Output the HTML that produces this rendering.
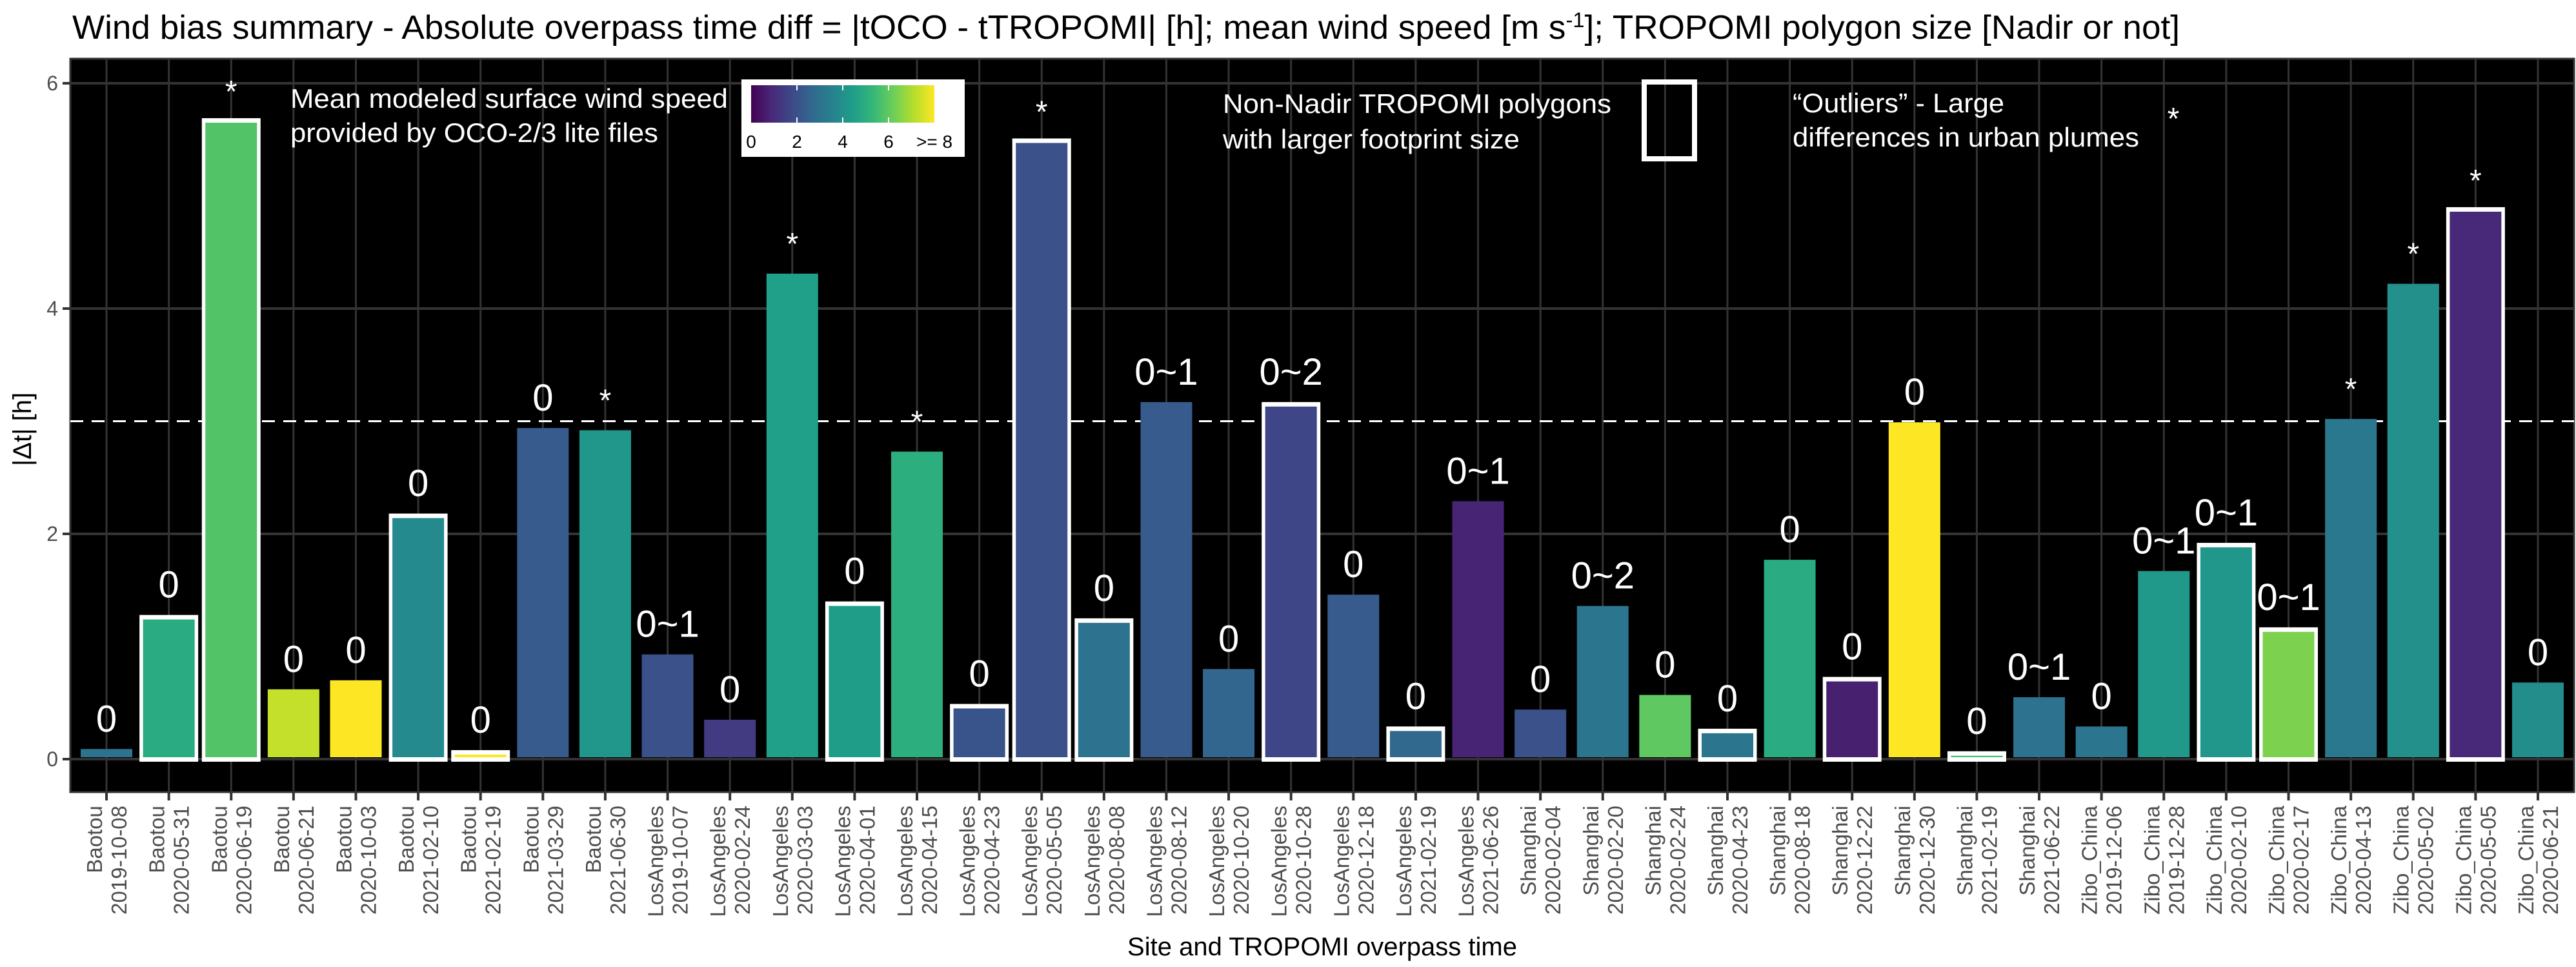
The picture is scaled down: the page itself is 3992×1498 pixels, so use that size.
<!DOCTYPE html>
<html><head><meta charset="utf-8"><style>
html,body{margin:0;padding:0;background:#fff;}
svg{display:block;font-family:"Liberation Sans",Arial,sans-serif;}
</style></head><body>
<svg id="chart" width="3992" height="1498" viewBox="0 0 3992 1498" xmlns="http://www.w3.org/2000/svg">
<defs>
<linearGradient id="viridis" x1="0" x2="1" y1="0" y2="0">
<stop offset="0" stop-color="#440154"/><stop offset="0.111" stop-color="#482878"/><stop offset="0.222" stop-color="#3e4989"/><stop offset="0.333" stop-color="#31688e"/><stop offset="0.444" stop-color="#26828e"/><stop offset="0.556" stop-color="#1f9e89"/><stop offset="0.667" stop-color="#35b779"/><stop offset="0.778" stop-color="#6ece58"/><stop offset="0.889" stop-color="#b5de2b"/><stop offset="1" stop-color="#fde725"/>
</linearGradient>
</defs>
<text x="112" y="60" font-size="52" fill="#000" textLength="3266" lengthAdjust="spacingAndGlyphs">Wind bias summary - Absolute overpass time diff = |tOCO - tTROPOMI| [h];  mean wind speed [m s<tspan font-size="32" dy="-18">-1</tspan><tspan dy="18">]; TROPOMI polygon size [Nadir or not]</tspan></text>
<rect x="109" y="91" width="3880" height="1136" fill="#000" stroke="#333" stroke-width="3"/>
<g id="grid"></g>
<g id="bars"></g>
<g id="labels"></g>
<g id="axes"></g>
<text transform="translate(48,665) rotate(-90)" text-anchor="middle" font-size="40" fill="#000">|Δt| [h]</text>
<text x="2049" y="1480" text-anchor="middle" font-size="40" fill="#000">Site and TROPOMI overpass time</text>
<g>
<text x="450" y="167" font-size="42" fill="#fff" textLength="678" lengthAdjust="spacingAndGlyphs">Mean modeled surface wind speed</text>
<text x="450" y="220" font-size="42" fill="#fff" textLength="570" lengthAdjust="spacingAndGlyphs">provided by OCO-2/3 lite files</text>
</g>
<g>
<rect x="1149" y="123" width="346" height="120" fill="#fff"/>
<rect x="1164" y="132" width="284" height="58" fill="url(#viridis)"/>
<g id="cbticks"></g>
</g>
<g>
<text x="1895" y="175" font-size="42" fill="#fff" textLength="602" lengthAdjust="spacingAndGlyphs">Non-Nadir TROPOMI polygons</text>
<text x="1895" y="230" font-size="42" fill="#fff" textLength="460" lengthAdjust="spacingAndGlyphs">with larger footprint size</text>
<rect x="2548" y="127" width="78" height="119" fill="none" stroke="#fff" stroke-width="8"/>
</g>
<g>
<text x="2778" y="174" font-size="42" fill="#fff" textLength="328" lengthAdjust="spacingAndGlyphs">“Outliers” - Large</text>
<text x="2778" y="227" font-size="42" fill="#fff" textLength="537" lengthAdjust="spacingAndGlyphs">differences in urban plumes</text>
<text x="3368" y="200" font-size="48" fill="#fff" text-anchor="middle">*</text>
</g>
</svg>
<script>
const sites = ["Baotou","Baotou","Baotou","Baotou","Baotou","Baotou","Baotou","Baotou","Baotou",
"LosAngeles","LosAngeles","LosAngeles","LosAngeles","LosAngeles","LosAngeles","LosAngeles","LosAngeles","LosAngeles","LosAngeles","LosAngeles","LosAngeles","LosAngeles","LosAngeles",
"Shanghai","Shanghai","Shanghai","Shanghai","Shanghai","Shanghai","Shanghai","Shanghai","Shanghai",
"Zibo_China","Zibo_China","Zibo_China","Zibo_China","Zibo_China","Zibo_China","Zibo_China","Zibo_China"];
const dates = ["2019-10-08","2020-05-31","2020-06-19","2020-06-21","2020-10-03","2021-02-10","2021-02-19","2021-03-29","2021-06-30",
"2019-10-07","2020-02-24","2020-03-03","2020-04-01","2020-04-15","2020-04-23","2020-05-05","2020-08-08","2020-08-12","2020-10-20","2020-10-28","2020-12-18","2021-02-19","2021-06-26",
"2020-02-04","2020-02-20","2020-02-24","2020-04-23","2020-08-18","2020-12-22","2020-12-30","2021-02-19","2021-06-22",
"2019-12-06","2019-12-28","2020-02-10","2020-02-17","2020-04-13","2020-05-02","2020-05-05","2020-06-21"];
const dtHours = [0.09,1.24,5.65,0.62,0.70,2.14,0.04,2.94,2.92,
0.93,0.35,4.31,1.36,2.73,0.45,5.47,1.21,3.17,0.80,3.13,1.46,0.25,2.29,
0.44,1.36,0.57,0.23,1.77,0.69,2.99,0.03,0.55,
0.29,1.67,1.88,1.13,3.02,4.22,4.86,0.68];
const windSpeed = [3.0,4.9,5.8,7.3,8,3.8,8,2.3,4.2,
2.0,1.4,4.5,4.4,5.0,2.1,2.0,3.0,2.3,2.6,1.7,2.3,2.7,0.8,
2.0,3.1,6.0,3.1,4.9,0.7,8,5.6,3.0,
3.1,4.3,4.2,6.4,3.2,4.0,0.9,3.9];
const nonNadir = [0,1,1,0,0,1,1,0,0,
0,0,0,1,0,1,1,1,0,0,1,0,1,0,
0,0,0,1,0,1,0,1,0,
0,0,1,1,0,0,1,0];
const topLabels = ["0","0","*","0","0","0","0","0","*",
"0~1","0","*","0","*","0","*","0","0~1","0","0~2","0","0","0~1",
"0","0~2","0","0","0","0","0","0","0~1",
"0","0~1","0~1","0~1","*","*","*","0"];
const yTicks = [0,2,4,6];
const refLine = [3];
const cbTicks = [0,2,4,6,8];
const cbTickLabels = ["0","2","4","6",">= 8"];

const NS="http://www.w3.org/2000/svg";
const PL=109, PR=3989, PT=91, PB=1227;
const n = dtHours.length;
const step = (PR-PL)/(n-1+1.16);
function xs(i){ return PL + step*0.58 + i*step; }
const Y0=1176, PU=174.5;
function ys(v){ return Y0 - v*PU; }
const vstops=["#440154","#482878","#3e4989","#31688e","#26828e","#1f9e89","#35b779","#6ece58","#b5de2b","#fde725"];
function hex(c){return [parseInt(c.substr(1,2),16),parseInt(c.substr(3,2),16),parseInt(c.substr(5,2),16)];}
function viridis(w){ let t=Math.max(0,Math.min(1,w/8))*(vstops.length-1); let i=Math.min(Math.floor(t),vstops.length-2); let f=t-i;
 const a=hex(vstops[i]), b=hex(vstops[i+1]); return "rgb("+a.map((v,k)=>Math.round(v+(b[k]-v)*f)).join(",")+")"; }
function mk(tag,attrs,parent,txt){ const e=document.createElementNS(NS,tag); for(const k in attrs) e.setAttribute(k,attrs[k]); if(txt!==undefined) e.textContent=txt; parent.appendChild(e); return e; }

const grid=document.getElementById('grid'), bars=document.getElementById('bars'), labels=document.getElementById('labels'), axes=document.getElementById('axes');
yTicks.forEach(v=>{
  const l=mk('line',{x1:PL,x2:PR,y1:ys(v),y2:ys(v),stroke:'#333',"stroke-width":4},grid);
  
  
  const t=mk('line',{x1:97,x2:109,y1:ys(v),y2:ys(v),stroke:'#333',"stroke-width":4},axes);
  
  
  const tl=mk('text',{x:90,y:ys(v)+11,"text-anchor":"end","font-size":32,fill:'#4d4d4d'},axes,String(v));
  
  
});
for(let i=0;i<n;i++){
  const g=mk('line',{x1:xs(i),x2:xs(i),y1:PT,y2:PB,stroke:'#333',"stroke-width":3},grid);
  
  
}
refLine.forEach(v=>{
  const d=mk('line',{x1:PL,x2:PR,y1:ys(v),y2:ys(v),stroke:'#fff',"stroke-width":3,"stroke-dasharray":"20 13"},grid);
  
  
});
const bw=80, ow=91;
for(let i=0;i<n;i++){
  const c=xs(i), top=ys(dtHours[i]);
  if(nonNadir[i]){
    const o=mk('rect',{x:c-ow/2,y:top-7,width:ow,height:Y0+4-(top-7),fill:'#fff'},bars);
    
    
  }
  const r=mk('rect',{x:c-bw/2,y:top,width:bw,height:Math.max(Y0-3-top,2),fill:viridis(windSpeed[i])},bars);
  
  
  const isStar=topLabels[i]==='*';
  const lt=mk('text',{x:c,y:isStar? top-(nonNadir[i]?32:30) : top-(nonNadir[i]?34:27),"text-anchor":"middle","font-size":isStar?48:58,fill:'#fff'},labels,topLabels[i]);
  
  
  const tk=mk('line',{x1:c,x2:c,y1:PB,y2:PB+13,stroke:'#333',"stroke-width":4},axes);
  
  
  const xl=mk('text',{transform:'translate('+c+',1248) rotate(-90)',"text-anchor":"end","font-size":33,fill:'#4d4d4d'},axes);
  
  
  mk('tspan',{x:0,y:-7},xl,sites[i]);
  mk('tspan',{x:0,y:31},xl,dates[i]);
}
const cb=document.getElementById('cbticks');
cbTicks.forEach((v,k)=>{
  const x=1164+v*35.5;
  if(v>0 && v<8){
    mk('line',{x1:x,x2:x,y1:132,y2:140,stroke:'#fff',"stroke-width":2},cb);
    mk('line',{x1:x,x2:x,y1:182,y2:190,stroke:'#fff',"stroke-width":2},cb);
  }
  const t=mk('text',{x:x,y:229,"text-anchor":"middle","font-size":28,fill:'#000'},cb,cbTickLabels[k]);
  
  
});
</script>
</body></html>
